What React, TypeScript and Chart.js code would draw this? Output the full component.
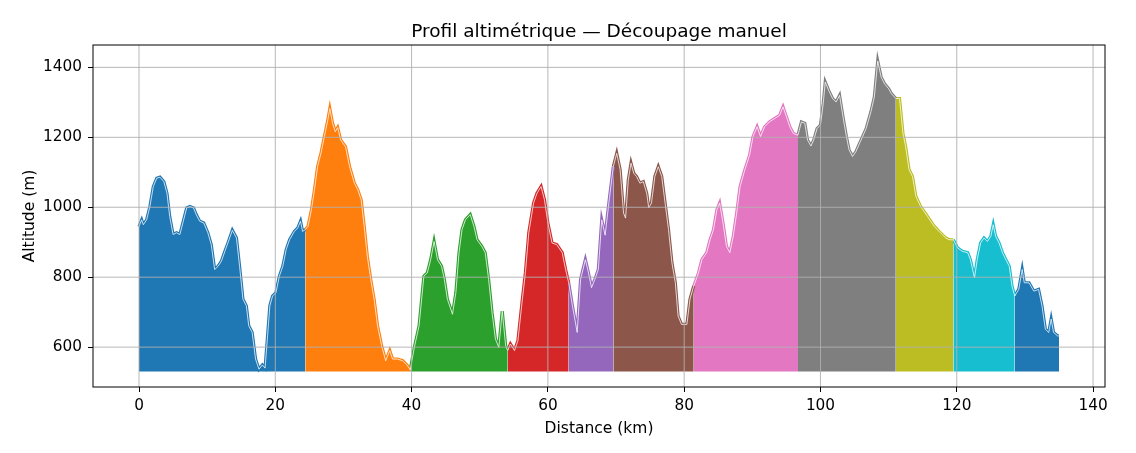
import React, { useEffect, useRef } from 'react';
import { Chart, registerables } from 'chart.js';
Chart.register(...registerables);

const distanceKm = [
  0, 0.39, 0.63, 1.12, 1.6, 2.1, 2.6, 3.07, 3.65, 4.1, 4.5, 5.0, 5.5, 6.0, 6.5, 7.0, 7.46, 8.0, 8.4, 8.9,
  9.5, 10.1, 10.6, 11.1, 11.6, 12.1, 12.6, 13.05, 13.7, 14.3, 14.76, 15.25, 15.75, 16.1, 16.6, 17.1, 17.6, 18.1, 18.5, 18.9,
  19.2, 19.6, 20.1, 20.6, 21.1, 21.6, 22.1, 22.8, 23.3, 23.7, 24.0, 24.4, 24.8, 25.3, 25.75, 26.2, 26.7, 27.2, 27.7, 28.0,
  28.4, 28.8, 29.15, 29.6, 30.3, 30.9, 31.6, 32.1, 32.6, 33.05, 33.5, 34.0, 34.5, 35.0, 35.6, 36.2, 36.8, 37.2, 37.9, 38.7,
  39.4, 39.8, 40.4, 41.1, 41.8, 42.3, 42.8, 43.3, 43.8, 44.4, 44.8, 45.25, 46.0, 46.5, 46.96, 47.4, 47.9, 48.6, 49.15, 49.6,
  50.3, 50.8, 51.3, 51.8, 52.3, 52.8, 53.3, 53.8, 54.1, 54.5, 55.1, 55.6, 56.2, 56.7, 57.2, 57.9, 58.4, 59.0, 59.5, 60.0,
  60.6, 61.3, 62.1, 62.6, 63.05, 63.6, 64.3, 64.8, 65.5, 65.96, 66.4, 66.9, 67.4, 67.9, 68.4, 69.0, 69.6, 70.1, 70.6, 71.1,
  71.4, 71.8, 72.2, 72.6, 73.0, 73.5, 74.0, 74.5, 74.8, 75.2, 75.7, 76.2, 76.7, 77.2, 77.7, 78.2, 78.7, 79.1, 79.6, 80.4,
  80.85, 81.4, 82.1, 82.6, 83.3, 83.8, 84.3, 84.8, 85.2, 85.7, 86.2, 86.7, 87.2, 87.7, 88.2, 88.9, 89.6, 90.1, 90.7, 91.2,
  91.8, 92.5, 93.3, 94.0, 94.5, 95.0, 95.5, 96.0, 96.7, 97.2, 97.7, 98.1, 98.6, 99.0, 99.5, 100.0, 100.4, 100.7, 101.2, 101.8,
  102.3, 102.8, 103.3, 103.8, 104.2, 104.7, 105.2, 105.95, 106.7, 107.4, 107.9, 108.4, 108.9, 109.4, 110.0, 110.4, 111.05, 111.6, 112.1, 112.5,
  113.0, 113.5, 114.0, 114.7, 115.7, 116.7, 117.6, 118.4, 118.9, 119.5, 120.1, 120.8, 121.6, 122.0, 122.6, 123.0, 123.5, 124.0, 124.5, 125.0,
  125.35, 125.7, 126.2, 126.7, 127.2, 127.7, 128.1, 128.5, 129.1, 129.6, 129.9, 130.6, 131.3, 132.0, 132.5, 133.0, 133.5, 133.85, 134.2, 134.8,
  135.0,
];

const altitudeM = [
  945, 964, 950, 964, 1002, 1059, 1083, 1086, 1073, 1040, 974, 922, 927, 922, 960, 998, 1002, 998, 979, 960,
  955, 927, 893, 822, 831, 846, 874, 898, 934, 912, 831, 737, 718, 661, 642, 566, 537, 549, 540, 640,
  718, 746, 756, 803, 831, 879, 907, 931, 941, 960, 931, 936, 945, 993, 1050, 1116, 1154, 1202, 1249, 1282,
  1240, 1216, 1228, 1192, 1173, 1116, 1069, 1050, 1021, 945, 860, 794, 737, 661, 604, 561, 590, 566, 566, 561,
  547, 535, 599, 661, 803, 812, 850, 902, 850, 831, 794, 737, 694, 756, 870, 936, 964, 979, 945, 907,
  888, 870, 794, 699, 623, 599, 703, 604, 590, 609, 590, 618, 727, 813, 927, 1012, 1040, 1059, 1021, 955,
  898, 893, 870, 822, 784, 718, 642, 794, 850, 812, 770, 794, 822, 964, 920, 1021, 1116, 1154, 1107, 983,
  969, 1078, 1126, 1097, 1088, 1069, 1073, 1040, 998, 1012, 1088, 1116, 1088, 1012, 936, 841, 784, 689, 665, 665,
  737, 775, 812, 850, 870, 907, 936, 993, 1012, 955, 888, 870, 917, 983, 1059, 1107, 1149, 1202, 1230, 1202,
  1230, 1244, 1254, 1263, 1287, 1259, 1230, 1211, 1206, 1244, 1240, 1192, 1175, 1192, 1225, 1235, 1296, 1358, 1334, 1310,
  1301, 1320, 1259, 1202, 1164, 1145, 1159, 1192, 1225, 1273, 1315, 1418, 1372, 1353, 1339, 1325, 1311, 1311, 1211, 1173,
  1107, 1088, 1031, 1002, 974, 945, 927, 912, 907, 907, 884, 874, 870, 850, 798, 850, 898, 912, 902, 917,
  950, 917, 898, 870, 850, 831, 775, 746, 765, 822, 784, 784, 760, 765, 718, 651, 642, 680, 642, 632,
  632,
];

const segmentBreaksKm = [0, 24.4, 39.8, 54.1, 63.05, 69.6, 81.4, 96.7, 111.05, 119.5, 128.5, 135];
const segmentColors = [
  '#1f77b4', '#ff7f0e', '#2ca02c', '#d62728', '#9467bd', '#8c564b',
  '#e377c2', '#7f7f7f', '#bcbd22', '#17becf', '#1f77b4',
];
const xTicks = [0, 20, 40, 60, 80, 100, 120, 140];
const yTicks = [600, 800, 1000, 1200, 1400];
const fillBase = 530;

const TITLE = 'Profil altimétrique — Découpage manuel';
const X_LABEL = 'Distance (km)';
const Y_LABEL = 'Altitude (m)';

export default function App() {
  const ref = useRef<HTMLCanvasElement | null>(null);

  useEffect(() => {
    document.body.style.margin = '0';
    const canvas = ref.current;
    if (!canvas) return;

    const points = distanceKm.map((d, i) => ({ x: d, y: altitudeM[i] }));
    const datasets: any[] = [];
    for (let i = 0; i < segmentColors.length; i++) {
      const a = segmentBreaksKm[i];
      const b = segmentBreaksKm[i + 1];
      datasets.push({
        data: points.filter((p) => p.x >= a - 1e-9 && p.x <= b + 1e-9),
        borderColor: segmentColors[i],
        backgroundColor: segmentColors[i],
        borderWidth: 3.2,
        fill: { value: fillBase },
        pointRadius: 0,
        tension: 0,
        order: 1,
      });
    }
    datasets.push({
      data: points,
      borderColor: 'rgba(255,255,255,0.75)',
      borderWidth: 1,
      fill: false,
      pointRadius: 0,
      tension: 0,
      order: -1,
    });

    const font = '"DejaVu Sans", sans-serif';

    const overlay = {
      id: 'overlay',
      afterDatasetsDraw(chart: any) {
        const { ctx, chartArea: a, scales } = chart;
        const xs = scales.x;
        const ys = scales.y;
        ctx.save();
        ctx.strokeStyle = '#b0b0b0';
        ctx.lineWidth = 0.9;
        ctx.beginPath();
        xTicks.forEach((v) => {
          const px = xs.getPixelForValue(v);
          ctx.moveTo(px, a.top);
          ctx.lineTo(px, a.bottom);
        });
        yTicks.forEach((v) => {
          const py = ys.getPixelForValue(v);
          ctx.moveTo(a.left, py);
          ctx.lineTo(a.right, py);
        });
        ctx.stroke();
        ctx.strokeStyle = '#000';
        ctx.lineWidth = 1;
        ctx.strokeRect(a.left, a.top, a.right - a.left, a.bottom - a.top);

        ctx.fillStyle = '#000';
        ctx.textAlign = 'center';
        ctx.textBaseline = 'alphabetic';
        ctx.font = `18.5px ${font}`;
        ctx.fillText(TITLE, (a.left + a.right) / 2, 37);
        ctx.font = `15.5px ${font}`;
        ctx.fillText(X_LABEL, (a.left + a.right) / 2, 433);
        ctx.save();
        ctx.translate(34, (a.top + a.bottom) / 2);
        ctx.rotate(-Math.PI / 2);
        ctx.fillText(Y_LABEL, 0, 0);
        ctx.restore();
        ctx.restore();
      },
    };

    const chart = new Chart(canvas, {
      type: 'line',
      data: { datasets },
      options: {
        responsive: false,
        animation: false,
        events: [],
        layout: { padding: { left: 0, right: 31, top: 45, bottom: 0 } },
        plugins: { legend: { display: false }, tooltip: { enabled: false }, title: { display: false } },
        scales: {
          x: {
            type: 'linear',
            min: -6.75,
            max: 141.75,
            afterBuildTicks: (axis: any) => {
              axis.ticks = xTicks.map((v) => ({ value: v }));
            },
            afterFit: (s: any) => {
              s.height = 66;
            },
            grid: { drawOnChartArea: false, drawTicks: true, tickLength: 5, tickColor: '#000', tickWidth: 1 },
            border: { display: false },
            ticks: {
              color: '#000',
              font: { family: font, size: 15.3 },
              padding: 5,
              maxRotation: 0,
              autoSkip: false,
              callback: (v: any) => String(v),
            },
          },
          y: {
            type: 'linear',
            min: 486,
            max: 1464,
            afterBuildTicks: (axis: any) => {
              axis.ticks = yTicks.map((v) => ({ value: v }));
            },
            afterFit: (s: any) => {
              s.width = 93;
            },
            grid: { drawOnChartArea: false, drawTicks: true, tickLength: 5, tickColor: '#000', tickWidth: 1 },
            border: { display: false },
            ticks: {
              color: '#000',
              font: { family: font, size: 15.3 },
              padding: 6,
              autoSkip: false,
              callback: (v: any) => String(v),
            },
          },
        },
      },
      plugins: [overlay],
    } as any);

    return () => chart.destroy();
  }, []);

  return <canvas ref={ref} width={1136} height={453} style={{ display: 'block', width: 1136, height: 453 }} />;
}
